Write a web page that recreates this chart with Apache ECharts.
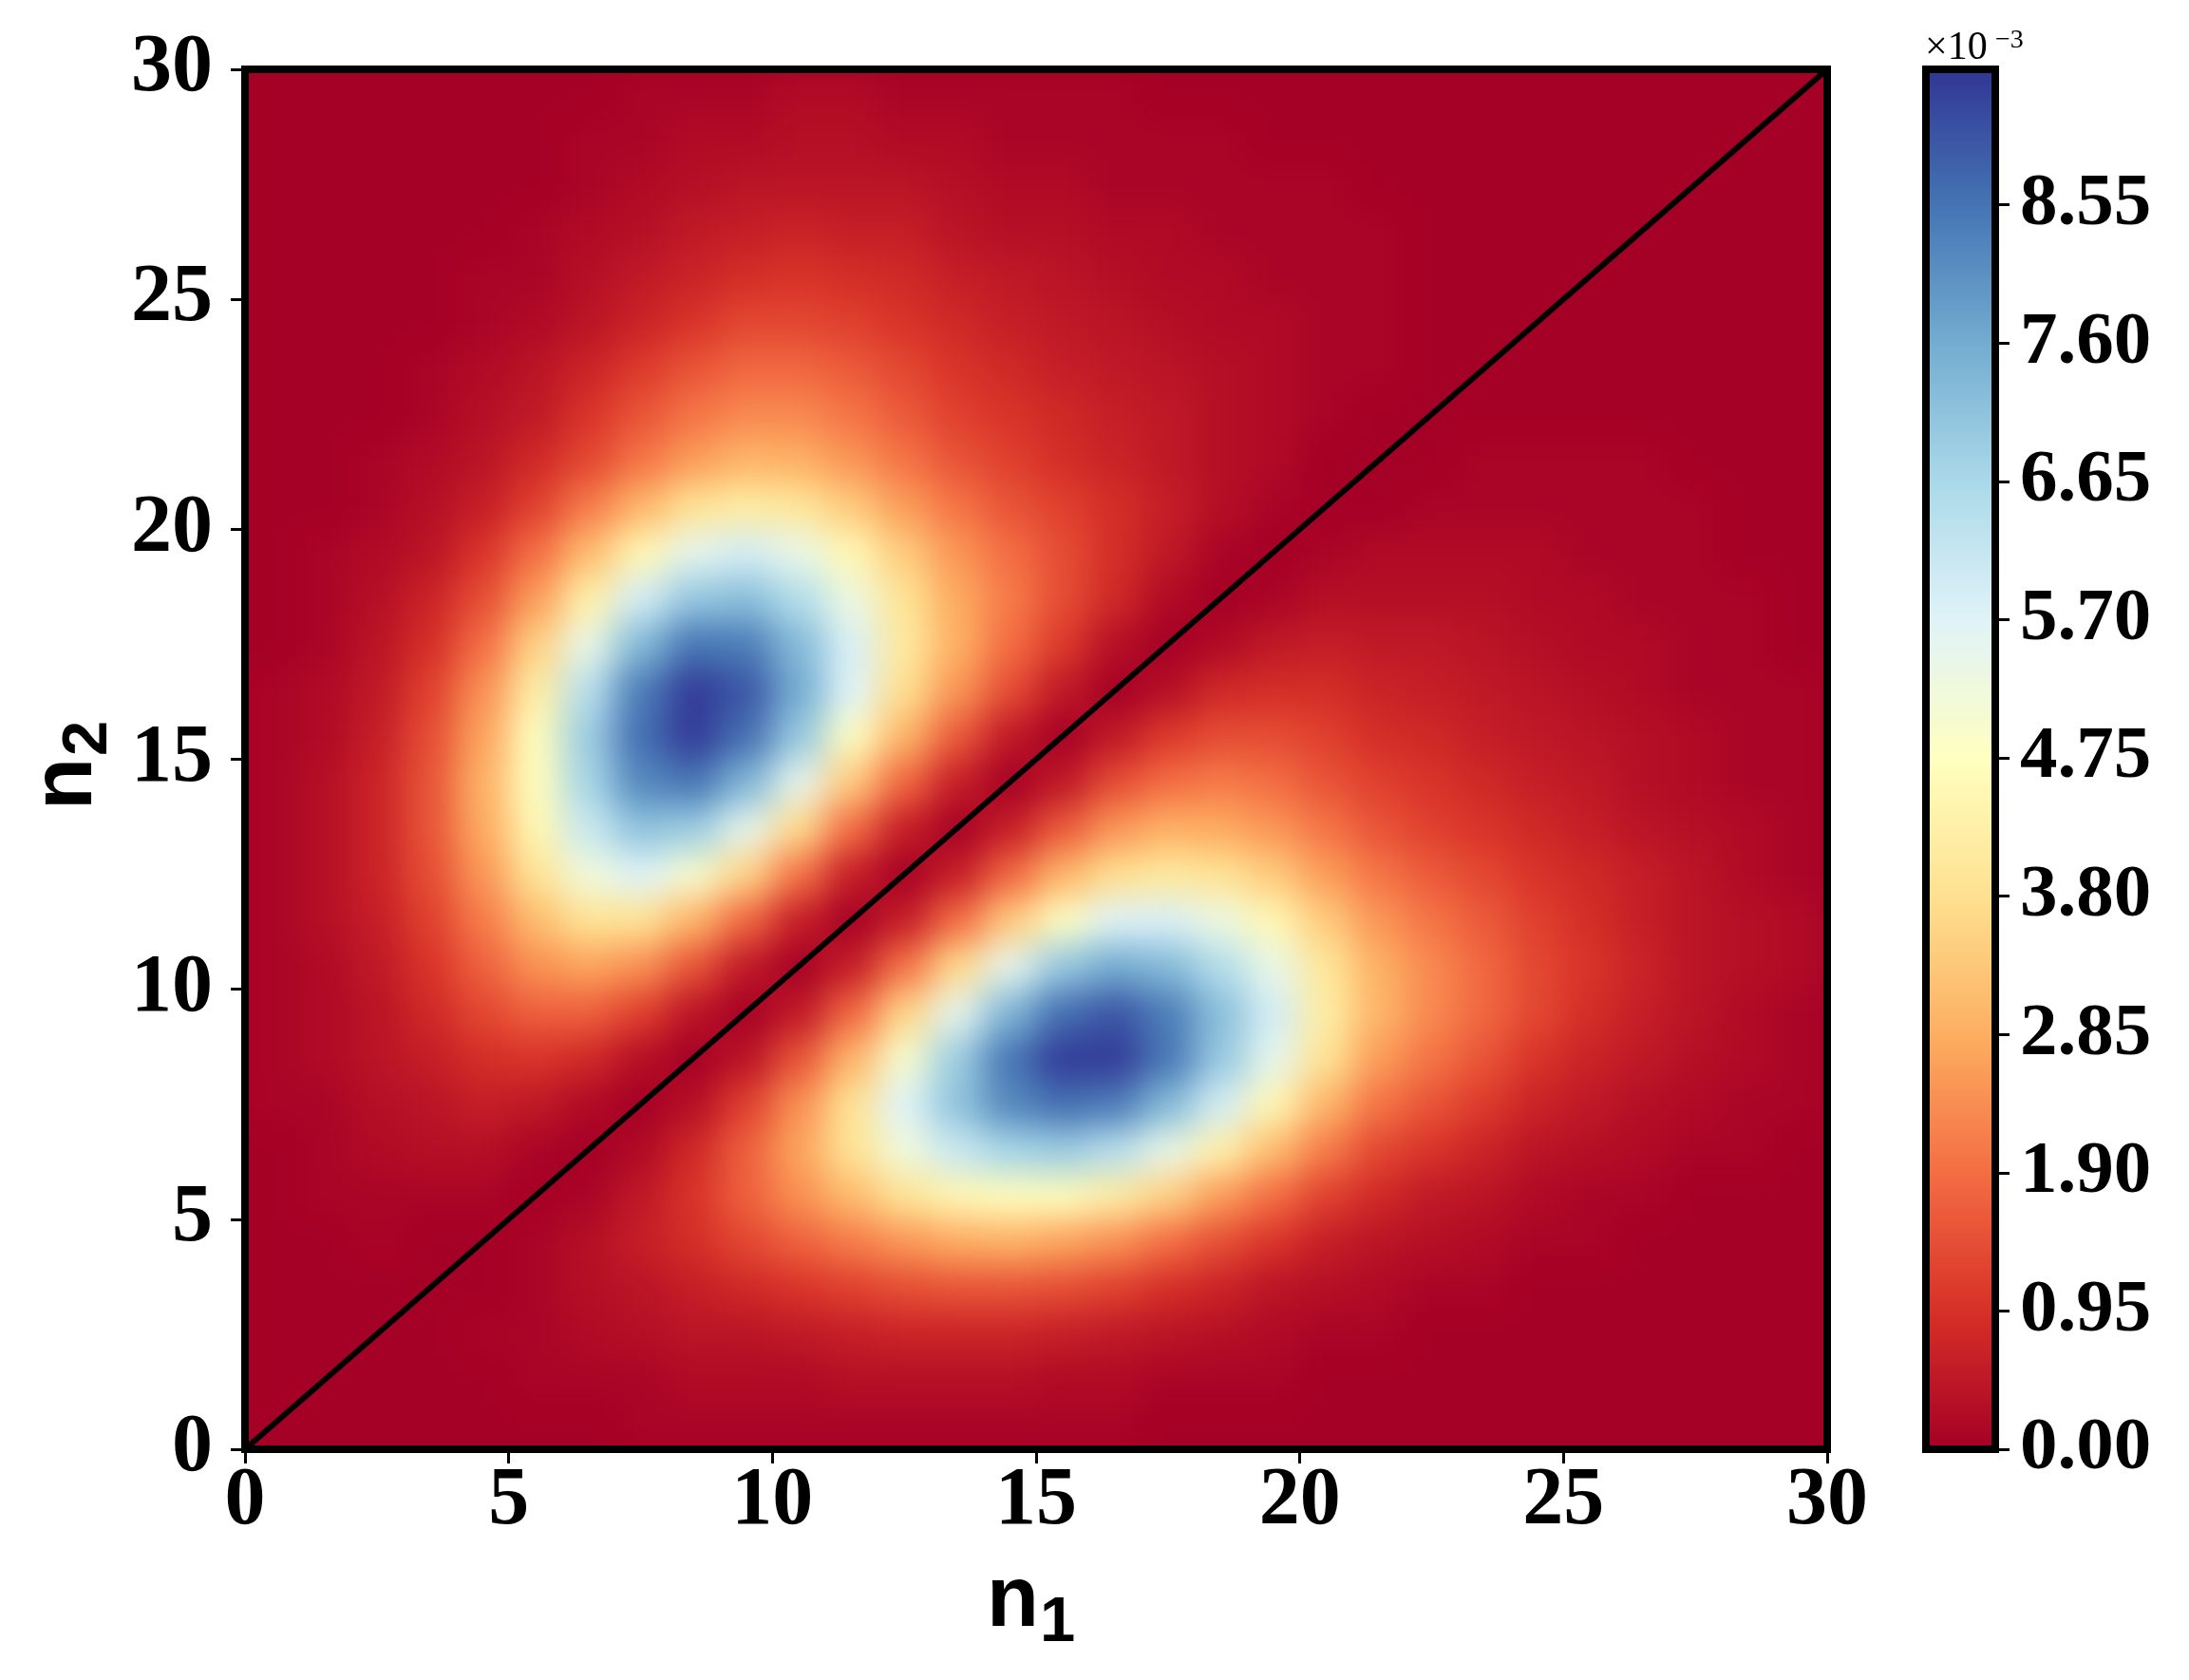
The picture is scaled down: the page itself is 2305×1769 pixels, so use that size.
<!DOCTYPE html>
<html>
<head>
<meta charset="utf-8">
<script src="https://cdn.jsdelivr.net/npm/echarts@6/dist/echarts.min.js"></script>
<style>
  html, body { margin: 0; padding: 0; background: #fff; }
  #clip { position: absolute; left: 258px; top: 73px; width: 1666px; height: 1453px; overflow: hidden; }
  #heat { position: absolute; left: -60px; top: -60px; width: 1786px; height: 1573px; filter: blur(18px); }
  #main { position: absolute; left: 0; top: 0; width: 2305px; height: 1769px; }
</style>
</head>
<body>
<div id="clip"><div id="heat"></div></div>
<div id="main"></div>
<script>
// cell centres along n1 and n2
const cells = ['0.5','1.5','2.5','3.5','4.5','5.5','6.5','7.5','8.5','9.5',
  '10.5','11.5','12.5','13.5','14.5','15.5','16.5','17.5','18.5','19.5',
  '20.5','21.5','22.5','23.5','24.5','25.5','26.5','27.5','28.5','29.5'];

// probability, in units of 1e-4; one row per n2 cell (bottom row first), n1 cells left to right
const z = [
  [0,0,0,0,0,0,0,1,1,1,1,1,1,1,1,1,1,0,0,0,0,0,0,0,0,0,0,0,0,0],
  [0,0,0,0,0,1,1,1,2,2,2,3,3,3,3,2,2,1,1,1,0,0,0,0,0,0,0,0,0,0],
  [0,0,0,0,1,1,2,3,4,4,5,6,7,7,7,6,5,4,3,2,1,1,0,0,0,0,0,0,0,0],
  [0,0,0,0,0,1,3,4,6,8,10,12,14,15,15,14,12,9,7,4,3,2,1,1,0,0,0,0,0,0],
  [0,0,1,0,0,1,3,6,9,13,17,21,25,28,29,27,24,19,14,10,6,4,3,2,1,1,0,0,0,0],
  [0,1,1,1,1,0,1,5,10,17,24,31,39,45,47,47,42,35,26,19,12,8,5,4,2,1,1,0,0,0],
  [0,1,2,3,3,1,0,2,8,17,27,39,52,61,67,69,64,54,43,31,21,13,10,7,4,3,2,1,1,0],
  [1,1,3,4,6,5,2,0,3,12,24,39,57,71,82,86,84,73,59,45,30,20,15,11,7,5,3,2,1,1],
  [1,2,4,6,9,10,8,3,0,4,15,30,50,69,85,94,94,85,70,55,39,26,20,15,10,7,5,3,2,1],
  [1,2,4,8,13,17,17,12,4,0,5,18,36,55,74,86,90,84,72,59,42,30,23,18,13,9,6,4,2,1],
  [1,2,5,10,17,24,27,24,15,5,0,6,20,37,55,70,76,73,65,54,40,29,23,18,13,10,7,4,3,2],
  [1,3,6,12,21,31,39,39,30,18,6,0,6,19,34,48,57,58,53,45,34,25,20,16,12,9,6,4,3,2],
  [1,3,7,14,25,39,52,57,50,36,20,6,0,6,18,30,38,41,39,34,26,20,16,13,10,8,6,4,2,1],
  [1,3,7,15,28,45,61,71,69,55,37,19,6,0,6,16,25,29,28,25,20,15,12,10,8,6,4,3,2,1],
  [1,3,7,15,29,47,67,82,85,74,55,34,18,6,0,5,14,19,21,19,15,12,10,8,6,5,3,2,1,1],
  [1,2,6,14,27,47,69,86,94,86,70,48,30,16,5,0,5,11,14,14,12,9,8,6,5,4,3,2,1,1],
  [1,2,5,12,24,42,64,84,94,90,76,57,38,25,14,5,0,3,8,9,9,7,6,5,4,3,2,1,1,1],
  [0,1,4,9,19,35,54,73,85,84,73,58,41,29,19,11,3,0,2,5,6,5,5,4,3,2,2,1,1,0],
  [0,1,3,7,14,26,43,59,70,72,65,53,39,28,21,14,8,2,0,1,3,3,3,3,2,2,1,1,1,0],
  [0,1,2,4,10,19,31,45,55,59,54,45,34,25,19,14,9,5,1,0,1,2,2,2,2,1,1,1,0,0],
  [0,0,1,3,6,12,21,30,39,42,40,34,26,20,15,12,9,6,3,1,0,0,1,1,1,1,1,1,0,0],
  [0,0,1,2,4,8,13,20,26,30,29,25,20,15,12,9,7,5,3,2,0,0,0,1,1,1,1,0,0,0],
  [0,0,0,1,3,5,10,15,20,23,23,20,16,12,10,8,6,5,3,2,1,0,0,0,0,0,0,0,0,0],
  [0,0,0,1,2,4,7,11,15,18,18,16,13,10,8,6,5,4,3,2,1,1,0,0,0,0,0,0,0,0],
  [0,0,0,0,1,2,4,7,10,13,13,12,10,8,6,5,4,3,2,2,1,1,0,0,0,0,0,0,0,0],
  [0,0,0,0,1,1,3,5,7,9,10,9,8,6,5,4,3,2,2,1,1,1,0,0,0,0,0,0,0,0],
  [0,0,0,0,0,1,2,3,5,6,7,6,6,4,3,3,2,2,1,1,1,1,0,0,0,0,0,0,0,0],
  [0,0,0,0,0,0,1,2,3,4,4,4,4,3,2,2,1,1,1,1,1,0,0,0,0,0,0,0,0,0],
  [0,0,0,0,0,0,1,1,2,2,3,3,2,2,1,1,1,1,1,0,0,0,0,0,0,0,0,0,0,0],
  [0,0,0,0,0,0,0,1,1,1,2,2,1,1,1,1,1,0,0,0,0,0,0,0,0,0,0,0,0,0]
];
const zMax = 94.8;          // top of colour scale, 1e-4 units
const cbMax = 9.48;         // same, in 1e-3 units (colorbar axis)
const cbTicks = [0, 0.95, 1.90, 2.85, 3.80, 4.75, 5.70, 6.65, 7.60, 8.55];
const diagonal = [[0, 0], [30, 30]];
const rdylbu = ['#a50026','#d73027','#f46d43','#fdae61','#fee090','#ffffbf',
  '#e0f3f8','#abd9e9','#74add1','#4575b4','#313695'];

const heatData = [];
z.forEach((row, j) => row.forEach((v, i) => heatData.push([i, j, v])));

// heatmap layer (sits under the axes chart)
const heat = echarts.init(document.getElementById('heat'));
heat.setOption({
  animation: false,
  backgroundColor: '#a50026',
  grid: { left: 60, right: 60, top: 60, bottom: 60 },
  xAxis: { type: 'category', data: cells, show: false },
  yAxis: { type: 'category', data: cells, show: false },
  visualMap: { show: false, type: 'continuous', min: 0, max: zMax, dimension: 2, inRange: { color: rdylbu } },
  series: [{ type: 'heatmap', data: heatData, itemStyle: { borderWidth: 0 }, emphasis: { disabled: true } }]
});

const tickFont = { fontFamily: 'Liberation Serif', fontWeight: 'bold', color: '#000' };
const tickStyle = { show: true, length: 15, lineStyle: { color: '#000', width: 3 } };
const cbGradient = new echarts.graphic.LinearGradient(0, 1, 0, 0,
  rdylbu.map((c, k) => ({ offset: k / 10, color: c })));

const chart = echarts.init(document.getElementById('main'));
chart.setOption({
  animation: false,
  backgroundColor: 'transparent',
  grid: [
    { left: 258, top: 73, width: 1666, height: 1453, show: true, z: 5,
      borderColor: '#000', borderWidth: 8, backgroundColor: 'transparent' },
    { left: 2028, top: 73, width: 73, height: 1453, show: true, z: 5,
      borderColor: '#000', borderWidth: 8, backgroundColor: 'transparent' }
  ],
  xAxis: [
    { gridIndex: 0, type: 'value', min: 0, max: 30, interval: 5,
      axisLine: { show: false }, splitLine: { show: false }, axisTick: tickStyle,
      axisLabel: Object.assign({ fontSize: 86, margin: 13 }, tickFont) },
    { gridIndex: 1, type: 'category', data: ['cb'], show: false }
  ],
  yAxis: [
    { gridIndex: 0, type: 'value', min: 0, max: 30, interval: 5,
      axisLine: { show: false }, splitLine: { show: false }, axisTick: tickStyle,
      axisLabel: Object.assign({ fontSize: 86, margin: 34 }, tickFont) },
    { gridIndex: 1, type: 'value', position: 'right', min: 0, max: cbMax,
      axisLine: { show: false }, splitLine: { show: false },
      axisTick: Object.assign({ customValues: cbTicks }, tickStyle),
      axisLabel: Object.assign({ fontSize: 79, margin: 26, customValues: cbTicks,
        formatter: v => v.toFixed(2) }, tickFont) }
  ],
  series: [
    { type: 'line', xAxisIndex: 0, yAxisIndex: 0, data: diagonal, symbol: 'none', silent: true,
      lineStyle: { color: '#000', width: 6 } },
    { type: 'bar', xAxisIndex: 1, yAxisIndex: 1, data: [cbMax], barWidth: '100%', silent: true,
      itemStyle: { color: cbGradient } }
  ],
  graphic: [
    { type: 'text', x: 1039, y: 1687, style: { text: 'n', font: 'bold 90px "Liberation Sans"', fill: '#000', verticalAlign: 'middle' } },
    { type: 'text', x: 1095, y: 1710, style: { text: '1', font: 'bold 67px "Liberation Sans"', fill: '#000', verticalAlign: 'middle' } },
    { type: 'text', x: 71, y: 853, rotation: Math.PI / 2, style: { text: 'n', font: 'bold 90px "Liberation Sans"', fill: '#000', verticalAlign: 'middle' } },
    { type: 'text', x: 94, y: 796, rotation: Math.PI / 2, style: { text: '2', font: 'bold 67px "Liberation Sans"', fill: '#000', verticalAlign: 'middle' } },
    { type: 'text', x: 2027, y: 51, style: { text: '×10', font: '42px "Liberation Serif"', fill: '#000', verticalAlign: 'middle' } },
    { type: 'text', x: 2101, y: 43, style: { text: '−3', font: '28px "Liberation Serif"', fill: '#000', verticalAlign: 'middle' } }
  ]
});
</script>
</body>
</html>
